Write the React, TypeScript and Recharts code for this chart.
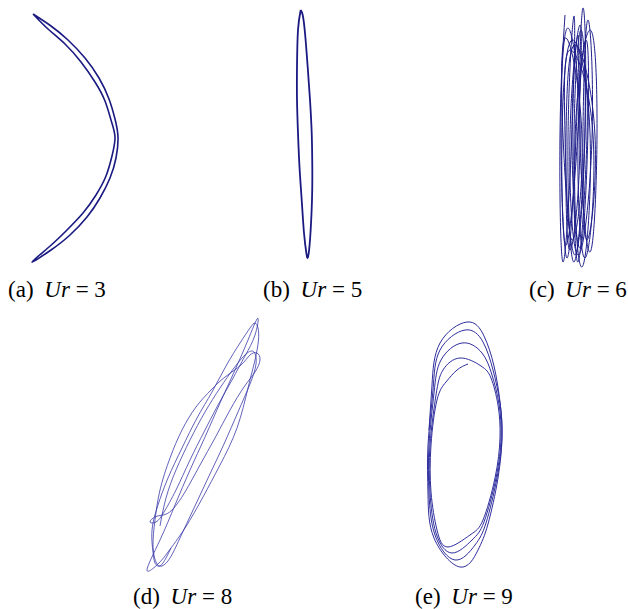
import React from 'react';
import { LineChart, Line, XAxis, YAxis } from 'recharts';

// page-pixel coordinates (y grows downward)
const trajectoryA = [
  { x: 33, y: 14 }, { x: 51, y: 26 }, { x: 68, y: 40 }, { x: 85, y: 58 }, { x: 99, y: 78 },
  { x: 109, y: 99 }, { x: 115, y: 119 }, { x: 118, y: 137 }, { x: 116, y: 158 }, { x: 110, y: 178 },
  { x: 100, y: 198 }, { x: 87, y: 217 }, { x: 70, y: 235 }, { x: 51, y: 250 }, { x: 32, y: 262 },
  { x: 49, y: 247 }, { x: 66, y: 231 }, { x: 83, y: 213 }, { x: 96, y: 195 }, { x: 106, y: 176 },
  { x: 112, y: 156 }, { x: 115, y: 137 }, { x: 111, y: 120 }, { x: 105, y: 101 }, { x: 95, y: 82 },
  { x: 81, y: 62 }, { x: 65, y: 44 }, { x: 48, y: 29 }, { x: 33, y: 14 },
];

const trajectoryB = [
  { x: 300.7, y: 10 }, { x: 298, y: 30 }, { x: 297, y: 67 }, { x: 297, y: 100 }, { x: 298, y: 133 },
  { x: 299.5, y: 167 }, { x: 301.7, y: 200 }, { x: 304, y: 233 }, { x: 306.5, y: 254 }, { x: 308, y: 257 },
  { x: 310, y: 240 }, { x: 312, y: 200 }, { x: 312.3, y: 167 }, { x: 311.7, y: 133 }, { x: 310, y: 100 },
  { x: 307.7, y: 67 }, { x: 305, y: 33 }, { x: 302.7, y: 15 }, { x: 300.7, y: 10 },
];

const trajectoryC = [
  { x: 565, y: 15 }, { x: 560, y: 135 }, { x: 563, y: 262 }, { x: 572, y: 132 },
  { x: 574, y: 16 }, { x: 568, y: 138 }, { x: 574, y: 262 }, { x: 585, y: 130 },
  { x: 583, y: 8 }, { x: 580, y: 136 }, { x: 590, y: 252 }, { x: 597, y: 134 },
  { x: 590, y: 30 }, { x: 575, y: 140 }, { x: 582, y: 267 }, { x: 590, y: 133 },
  { x: 572, y: 40 }, { x: 562, y: 137 }, { x: 566, y: 245 }, { x: 578, y: 131 },
  { x: 580, y: 25 }, { x: 570, y: 135 }, { x: 578, y: 255 }, { x: 592, y: 138 },
  { x: 588, y: 20 }, { x: 583, y: 132 }, { x: 587, y: 240 }, { x: 595, y: 136 },
  { x: 575, y: 45 }, { x: 566, y: 139 }, { x: 570, y: 250 }, { x: 580, y: 134 },
  { x: 568, y: 28 }, { x: 561, y: 133 }, { x: 567, y: 258 }, { x: 576, y: 137 },
  { x: 578, y: 35 }, { x: 572, y: 136 }, { x: 580, y: 248 }, { x: 588, y: 131 },
  { x: 586, y: 40 }, { x: 578, y: 138 }, { x: 585, y: 258 }, { x: 593, y: 135 },
  { x: 570, y: 50 }, { x: 565, y: 134 }, { x: 572, y: 240 }, { x: 582, y: 139 },
  { x: 566, y: 38 }, { x: 563, y: 136 }, { x: 575, y: 255 }, { x: 585, y: 132 },
  { x: 581, y: 30 }, { x: 574, y: 135 }, { x: 578, y: 262 }, { x: 587, y: 136 },
  { x: 584, y: 60 },
];

const trajectoryD = [
  { x: 171, y: 548 }, { x: 166, y: 558 }, { x: 160, y: 566 }, { x: 155, y: 563 }, { x: 153, y: 552 },
  { x: 152, y: 530 }, { x: 158, y: 505 }, { x: 168, y: 478 }, { x: 182, y: 448 }, { x: 197, y: 418 },
  { x: 212, y: 392 }, { x: 226, y: 366 }, { x: 240, y: 343 }, { x: 250, y: 328 }, { x: 255, y: 323 },
  { x: 258, y: 328 }, { x: 258.5, y: 340 }, { x: 255, y: 360 },
  { x: 248, y: 388 }, { x: 237, y: 428 }, { x: 220, y: 465 }, { x: 203, y: 497 }, { x: 185, y: 528 },
  { x: 168, y: 552 }, { x: 158, y: 564 }, { x: 147, y: 570 },
  { x: 160, y: 540 }, { x: 175, y: 505 }, { x: 190, y: 470 }, { x: 205, y: 437 }, { x: 220, y: 403 },
  { x: 235, y: 370 }, { x: 248, y: 340 }, { x: 257.7, y: 318.3 },
  { x: 255, y: 335 }, { x: 245, y: 356 }, { x: 232, y: 380 }, { x: 218, y: 405 }, { x: 204, y: 432 },
  { x: 190, y: 460 }, { x: 176, y: 490 }, { x: 164, y: 512 }, { x: 156, y: 522 }, { x: 150, y: 522 },
  { x: 155, y: 517 }, { x: 163, y: 515 }, { x: 172, y: 510 },
  { x: 185, y: 492 }, { x: 200, y: 465 }, { x: 215, y: 438 }, { x: 230, y: 410 }, { x: 244, y: 387 },
  { x: 255, y: 372 }, { x: 260, y: 360 }, { x: 257, y: 353 }, { x: 250, y: 355 }, { x: 241, y: 365 },
  { x: 225, y: 377 }, { x: 211, y: 390 }, { x: 196, y: 407 }, { x: 182, y: 430 }, { x: 170, y: 458 },
  { x: 160, y: 490 }, { x: 155, y: 520 }, { x: 153, y: 545 }, { x: 156, y: 562 }, { x: 162, y: 566 },
  { x: 170, y: 558 }, { x: 180, y: 538 }, { x: 194, y: 508 }, { x: 209, y: 476 }, { x: 224, y: 444 },
  { x: 238, y: 412 }, { x: 250, y: 384 }, { x: 256, y: 364 }, { x: 254, y: 352 }, { x: 246, y: 354 },
  { x: 234, y: 368 }, { x: 220, y: 388 }, { x: 205, y: 412 }, { x: 190, y: 440 }, { x: 176, y: 470 },
  { x: 166, y: 498 }, { x: 160, y: 526 },
];

const trajectoryE = [
  { x: 468, y: 364 }, { x: 457, y: 370 }, { x: 446, y: 382 }, { x: 437, y: 400 }, { x: 431, y: 445 },
  { x: 431, y: 492 }, { x: 437, y: 530 }, { x: 448, y: 547 }, { x: 470, y: 535 }, { x: 483, y: 520 },
  { x: 495, y: 478 }, { x: 500, y: 438 }, { x: 498, y: 405 }, { x: 491, y: 378 }, { x: 481, y: 366 },
  { x: 460, y: 358 },
  { x: 443, y: 370 }, { x: 436, y: 395 }, { x: 430, y: 445 }, { x: 430, y: 492 }, { x: 436, y: 533 },
  { x: 452, y: 553 }, { x: 472, y: 540 }, { x: 484, y: 522 }, { x: 496, y: 478 }, { x: 501, y: 438 },
  { x: 499, y: 404 }, { x: 492, y: 375 }, { x: 482, y: 353 }, { x: 462, y: 343 },
  { x: 441, y: 360 }, { x: 434, y: 393 }, { x: 429, y: 445 }, { x: 429, y: 493 }, { x: 435, y: 535 },
  { x: 455, y: 560 }, { x: 475, y: 545 }, { x: 486, y: 523 }, { x: 497, y: 478 }, { x: 502, y: 437 },
  { x: 500, y: 403 }, { x: 493, y: 370 }, { x: 483, y: 342 }, { x: 465, y: 330 },
  { x: 440, y: 350 }, { x: 433, y: 390 }, { x: 428, y: 445 }, { x: 428, y: 494 }, { x: 434, y: 538 },
  { x: 460, y: 567 }, { x: 478, y: 550 }, { x: 488, y: 524 }, { x: 498, y: 478 }, { x: 502, y: 436 },
  { x: 500, y: 402 }, { x: 494, y: 366 }, { x: 484, y: 336 }, { x: 467, y: 322 },
  { x: 440, y: 343 }, { x: 432, y: 385 }, { x: 429, y: 430 },
];

const panelLetters = ['a', 'b', 'c', 'd', 'e'];
const velocityLabels = ['3', '5', '6', '8', '9'];

const series = [
  { data: trajectoryA, color: '#1a1a82', width: 1.6 },
  { data: trajectoryB, color: '#1a1a82', width: 1.8 },
  { data: trajectoryC, color: '#1f1f8c', width: 1 },
  { data: trajectoryD, color: '#3a3aaa', width: 0.8 },
  { data: trajectoryE, color: '#2e2e9e', width: 1 },
];

const labelPos = [
  { left: 8, top: 278 },
  { left: 263, top: 278 },
  { left: 529, top: 278 },
  { left: 133, top: 585 },
  { left: 415, top: 585 },
];

const W = 628;
const H = 609;

export default function App() {
  return (
    <div style={{ position: 'absolute', left: 0, top: 0, width: W, height: H, background: '#fff' }}>
      <LineChart width={W} height={H} margin={{ top: 0, right: 0, bottom: 0, left: 0 }}>
        <XAxis type="number" dataKey="x" domain={[0, W]} allowDataOverflow hide />
        <YAxis type="number" dataKey="y" domain={[0, H]} reversed allowDataOverflow hide />
        {series.map((s, i) => (
          <Line
            key={i}
            data={s.data}
            dataKey="y"
            type="natural"
            stroke={s.color}
            strokeWidth={s.width}
            dot={false}
            activeDot={false}
            isAnimationActive={false}
          />
        ))}
      </LineChart>
      {labelPos.map((p, i) => (
        <div
          key={i}
          style={{
            position: 'absolute',
            left: p.left,
            top: p.top,
            fontFamily: "'Liberation Serif', 'DejaVu Serif', Times, serif",
            fontSize: 23,
            lineHeight: '23px',
            whiteSpace: 'pre',
            color: '#000',
          }}
        >
          <span style={{ marginRight: 5 }}>({panelLetters[i]})</span> <i>Ur</i> = {velocityLabels[i]}
        </div>
      ))}
    </div>
  );
}
